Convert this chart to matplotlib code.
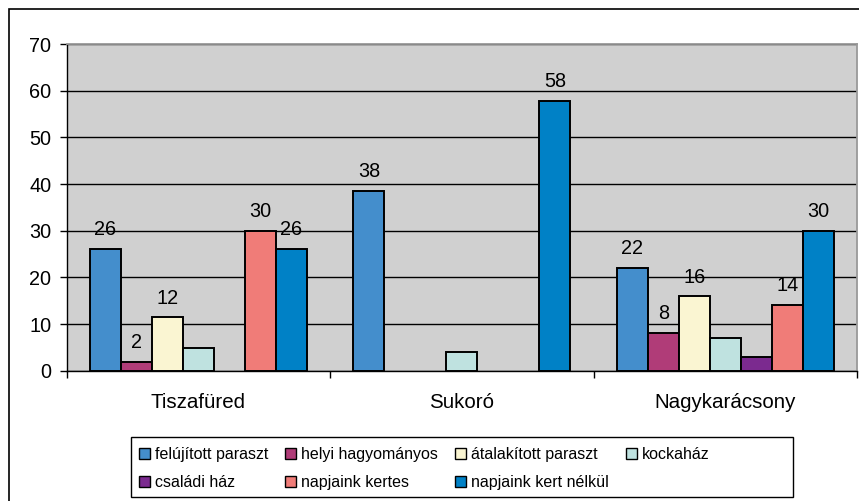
import matplotlib
matplotlib.use('Agg')
import matplotlib.pyplot as plt
from matplotlib.patches import Rectangle, Patch
from matplotlib.ticker import FixedLocator

plt.rcParams['font.family'] = ['Liberation Sans', 'DejaVu Sans']

categories = ['Tiszafüred', 'Sukoró', 'Nagykarácsony']
series_names = ['felújított paraszt', 'helyi hagyományos', 'átalakított paraszt',
                'kockaház', 'családi ház', 'napjaink kertes', 'napjaink kert nélkül']

felujitott = [26.1, 38.5, 22.1]
helyi = [1.9, None, 8.1]
atalakitott = [11.4, None, 15.9]
kockahaz = [4.9, 3.9, 6.9]
csaladi = [None, None, 2.9]
kertes = [30.0, None, 14.0]
kert_nelkul = [26.1, 57.8, 30.0]

felujitott_labels = ['26', '38', '22']
helyi_labels = ['2', None, '8']
atalakitott_labels = ['12', None, '16']
kockahaz_labels = [None, None, None]
csaladi_labels = [None, None, None]
kertes_labels = ['30', None, '14']
kert_nelkul_labels = ['26', '58', '30']

yticks = [0, 10, 20, 30, 40, 50, 60, 70]

series_values = [felujitott, helyi, atalakitott, kockahaz, csaladi, kertes, kert_nelkul]
series_labels = [felujitott_labels, helyi_labels, atalakitott_labels, kockahaz_labels,
                 csaladi_labels, kertes_labels, kert_nelkul_labels]
colors = ['#448ECC', '#B03C78', '#FAF5D2', '#BFE2E0', '#7B2A8F', '#F07C78', '#0081C6']

W, H = 859, 501
fig = plt.figure(figsize=(W / 100, H / 100), dpi=100)
fig.patch.set_facecolor('white')
ax = fig.add_axes([66.7 / W, 1 - 370.7 / H, (857 - 66.7) / W, (370.7 - 44) / H])
ax.set_facecolor('#D0D0D0')

n = len(series_values)
bw = 1.0 / (n + 1.5)
for si, (vals, labs, col) in enumerate(zip(series_values, series_labels, colors)):
    for ci, v in enumerate(vals):
        if v is None:
            continue
        x = ci - 0.5 + 0.75 * bw + (si + 0.5) * bw
        ax.bar(x, v, width=bw, color=col, edgecolor='black', linewidth=1.4, zorder=3)
        if labs[ci] is not None:
            ax.annotate(labs[ci], (x, v), xytext=(0, 10), textcoords='offset points',
                        ha='center', va='baseline', fontsize=14.3, zorder=4)

ax.set_xlim(-0.5, len(categories) - 0.5)
ax.set_ylim(0, 70)
ax.set_yticks(yticks)
ax.set_yticklabels([str(t) for t in yticks])
ax.set_xticks(range(len(categories)))
ax.set_xticklabels(categories)
ax.xaxis.set_minor_locator(FixedLocator([i - 0.5 for i in range(len(categories) + 1)]))
ax.tick_params(axis='x', which='major', length=0, pad=16, labelsize=14.8)
ax.tick_params(axis='x', which='minor', length=5, width=1, color='black', direction='out')
ax.tick_params(axis='y', which='major', length=5, width=1, color='black', pad=6, labelsize=14.3)

ax.yaxis.grid(True, color='black', linewidth=1)
ax.set_axisbelow(True)
for s in ['top', 'right']:
    ax.spines[s].set_color('#999999')
    ax.spines[s].set_linewidth(1.3)
for s in ['left', 'bottom']:
    ax.spines[s].set_color('black')
    ax.spines[s].set_linewidth(1)

handles = [Patch(facecolor=c, edgecolor='black', linewidth=1) for c in colors]
order = [0, 4, 1, 5, 2, 6, 3]
leg = fig.legend([handles[i] for i in order], [series_names[i] for i in order],
                 loc='upper left', bbox_to_anchor=(131 / W, 1 - 439 / H),
                 ncol=4, fontsize=11.5, frameon=False,
                 handlelength=0.7, handleheight=0.7, handletextpad=0.3,
                 columnspacing=1.06, labelspacing=0.8, borderpad=0.5,
                 borderaxespad=0)

# legend box as drawn in the reference (wider than its entries)
fig.patches.append(Rectangle((131 / W, 1 - 497.3 / H), (793 - 131) / W, (497.3 - 436.7) / H,
                             transform=fig.transFigure, fill=False,
                             edgecolor='black', linewidth=1))

fig.patches.append(Rectangle((9 / W, -0.1), 1.2, 1.1 - 9 / H, transform=fig.transFigure,
                             fill=False, edgecolor='black', linewidth=1.2))

fig.savefig('out.png', dpi=100)
